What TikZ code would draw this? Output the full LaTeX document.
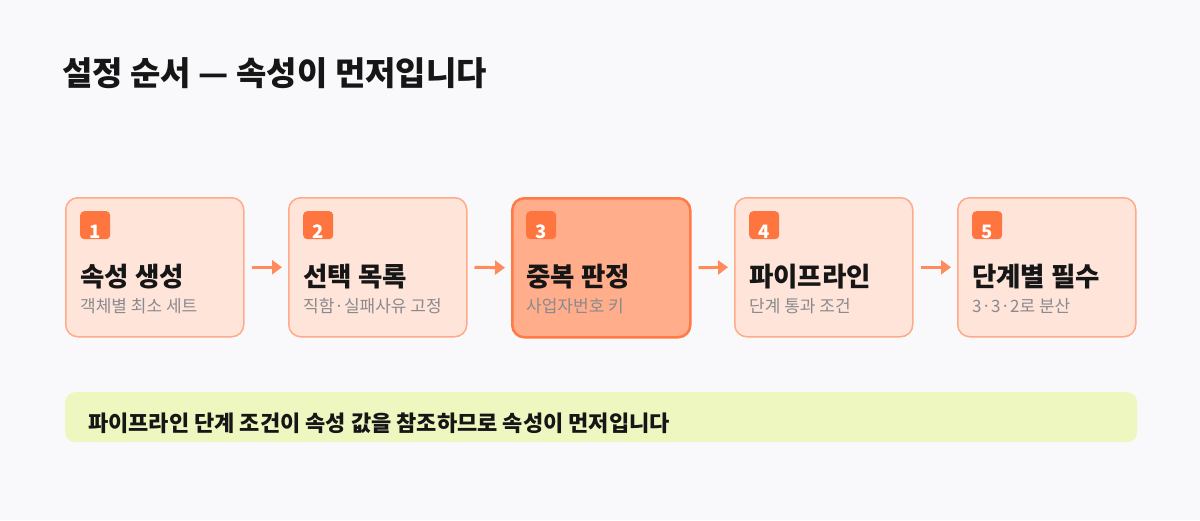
\documentclass[tikz,border=0pt]{standalone}
\usepackage{fontspec}
\setmainfont{Noto Sans CJK KR}
\usetikzlibrary{arrows.meta}
\definecolor{bgc}{HTML}{F9F9FB}
\definecolor{boxfill}{HTML}{FFE4DA}
\definecolor{boxline}{HTML}{FFAA88}
\definecolor{hotfill}{HTML}{FFAD8A}
\definecolor{hotline}{HTML}{FF7A45}
\definecolor{badgec}{HTML}{FF7540}
\definecolor{arrowc}{HTML}{FF8A5B}
\definecolor{subc}{HTML}{8A8A8E}
\definecolor{titlec}{HTML}{161616}
\definecolor{notefill}{HTML}{EFF7C0}
\tikzset{
  x=1pt, y=-1pt,
  stepbox/.style={draw=boxline, fill=boxfill, line width=1.5pt, rounded corners=12pt,
    minimum width=178pt, minimum height=139pt, anchor=north west, inner sep=0pt},
  hotbox/.style={stepbox, draw=hotline, fill=hotfill, line width=2.5pt},
  badge/.style={fill=badgec, rounded corners=4pt, minimum width=30pt, minimum height=28pt,
    anchor=north west, inner sep=0pt},
  badgenum/.style={text=white, font=\fontsize{18.5}{18.5}\selectfont\bfseries, anchor=base, inner sep=0pt},
  steptitle/.style={text=titlec, font=\fontsize{26.5}{26.5}\selectfont\bfseries, anchor=base west, inner sep=0pt},
  stepsub/.style={text=subc, font=\fontsize{17}{17}\selectfont, anchor=base west, inner sep=0pt},
  flow/.style={draw=arrowc, line width=3pt, -{Triangle[length=10pt,width=14pt]}},
}
\begin{document}
\begin{tikzpicture}
\useasboundingbox (0,0) rectangle (1200,520);
\fill[bgc] (0,0) rectangle (1200,520);
\node[text=titlec, font=\fontsize{33}{33}\selectfont\bfseries, anchor=base west, inner sep=0pt] (title) at (62,85) {설정 순서 — 속성이 먼저입니다};

\foreach \i/\x/\t/\s/\st in {1/65/속성 생성/객체별 최소 세트/stepbox,
                         2/288/선택 목록/직함·실패사유 고정/stepbox,
                         3/511/중복 판정/사업자번호 키/hotbox,
                         4/734/파이프라인/단계 통과 조건/stepbox,
                         5/957/단계별 필수/3·3·2로 분산/stepbox}{
  \node[\st] (b\i) at (\x,197) {};
  \node[badge] (g\i) at (\x+15,211) {};
  \node[badgenum] (n\i) at (\x+30,238) {\i};
  \node[steptitle] (t\i) at (\x+15,286) {\t};
  \node[stepsub] (s\i) at (\x+15,312) {\s};
}
\foreach \a/\b in {1/2,2/3,3/4,4/5}{
  \draw[flow] ([xshift=7pt]b\a.east) -- ([xshift=-6pt]b\b.west);
}
\node[fill=notefill, rounded corners=10pt, minimum width=1072pt, minimum height=50pt,
  anchor=north west, inner sep=0pt] (note) at (65,392) {};
\node[text=titlec, font=\fontsize{22}{22}\selectfont\bfseries, anchor=base west, inner sep=0pt]
  (notetext) at (88,431) {파이프라인 단계 조건이 속성 값을 참조하므로 속성이 먼저입니다};
\end{tikzpicture}
\end{document}
